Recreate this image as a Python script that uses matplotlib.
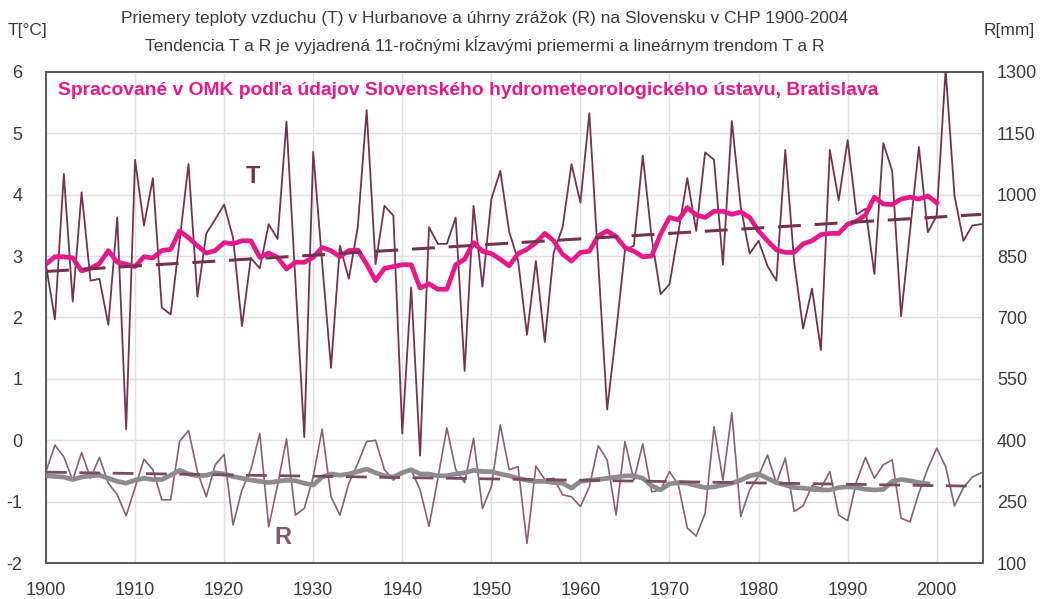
# -*- encoding: utf-8 -*-
"""
Priemery teploty vzduchu (T) a úhrny zrážok (R), 1900-2005
(hodnoty odčítané z grafu, R je kreslené v jednotkách ľavej osi)
"""
import matplotlib
matplotlib.use('Agg')
import matplotlib.pyplot as plt
import numpy as np

# ----------------------------------------------------------------------
# dáta
years = np.arange(1900, 2006)

t_values = [2.85, 1.97, 4.34, 2.26, 4.04, 2.6, 2.63, 1.88, 3.63, 0.18,
            4.57, 3.5, 4.27, 2.16, 2.05, 3.25, 4.5, 2.34, 3.37, 3.6,
            3.84, 3.3, 1.86, 2.97, 2.8, 3.52, 3.28, 5.19, 2.6, 0.05,
            4.7, 2.9, 1.18, 3.17, 2.63, 3.47, 5.38, 2.87, 3.82, 3.66,
            0.11, 2.49, -0.25, 3.47, 3.2, 3.2, 3.63, 1.13, 3.82, 2.5,
            3.93, 4.39, 3.4, 2.93, 1.72, 2.92, 1.6, 3.06, 3.47, 4.5,
            3.87, 5.33, 2.9, 0.5, 1.75, 3.1, 3.17, 4.64, 3.3, 2.38,
            2.54, 3.39, 4.27, 3.41, 4.69, 4.57, 2.86, 5.2, 3.8, 3.04,
            3.25, 2.84, 2.6, 4.73, 2.9, 1.82, 2.47, 1.47, 4.73, 3.91,
            4.89, 3.68, 3.77, 2.71, 4.84, 4.39, 2.02, 3.4, 4.78, 3.39,
            3.66, 6.04, 3.98, 3.25, 3.5, 3.52]

# 11-ročný kĺzavý priemer T (1900-2000)
t_smooth = [2.87, 2.99, 2.99, 2.97, 2.76, 2.8, 2.88, 3.09, 2.9, 2.87,
            2.83, 2.99, 2.97, 3.09, 3.11, 3.41, 3.3, 3.17, 3.05, 3.09,
            3.22, 3.2, 3.25, 3.25, 2.98, 3.05, 2.98, 2.79, 2.9, 2.9,
            2.98, 3.14, 3.09, 2.99, 3.09, 3.1, 2.87, 2.6, 2.8, 2.83,
            2.86, 2.86, 2.48, 2.55, 2.46, 2.46, 2.86, 2.95, 3.22, 3.08,
            3.04, 2.95, 2.84, 3.04, 3.11, 3.22, 3.37, 3.25, 3.03, 2.92,
            3.06, 3.08, 3.33, 3.41, 3.32, 3.14, 3.08, 2.99, 3.0, 3.36,
            3.63, 3.59, 3.79, 3.67, 3.63, 3.73, 3.73, 3.68, 3.72, 3.63,
            3.41, 3.25, 3.1, 3.06, 3.06, 3.2, 3.25, 3.35, 3.37, 3.37,
            3.52, 3.57, 3.67, 3.96, 3.85, 3.84, 3.93, 3.96, 3.93, 3.98,
            3.87]

r_values = [-0.51, -0.08, -0.27, -0.65, -0.2, -0.62, -0.28, -0.7, -0.89, -1.23,
            -0.77, -0.31, -0.48, -0.97, -0.97, -0.02, 0.16, -0.51, -0.92, -0.4,
            -0.23, -1.38, -0.81, -0.48, 0.11, -1.41, -0.73, 0.02, -1.22, -1.11,
            -0.6, 0.18, -0.92, -1.22, -0.7, -0.38, -0.02, 0.0, -0.48, -0.65,
            -0.51, -0.48, -0.81, -1.4, -0.62, 0.2, -0.48, -0.69, 0.03, -1.11,
            -0.76, 0.25, -0.48, -0.43, -1.68, -0.42, -0.64, -0.62, -0.89, -0.92,
            -1.08, -0.76, -0.09, -0.32, -1.22, -0.02, -0.65, -0.06, -0.84, -0.81,
            -0.51, -0.73, -1.43, -1.56, -1.19, 0.22, -0.65, 0.45, -1.24, -0.81,
            -0.58, -0.24, -0.7, -0.29, -1.16, -1.07, -0.74, -0.78, -0.51, -1.22,
            -1.31, -0.67, -0.28, -0.62, -0.4, -0.32, -1.27, -1.33, -0.86, -0.46,
            -0.13, -0.43, -1.07, -0.77, -0.6, -0.53]

# kĺzavý priemer R (1900-1999)
r_smooth = [-0.58, -0.59, -0.6, -0.64, -0.6, -0.58, -0.57, -0.62, -0.67, -0.7,
            -0.65, -0.62, -0.64, -0.64, -0.57, -0.49, -0.55, -0.58, -0.57, -0.53,
            -0.55, -0.59, -0.62, -0.65, -0.67, -0.69, -0.67, -0.65, -0.66, -0.7,
            -0.73, -0.6, -0.55, -0.57, -0.55, -0.51, -0.47, -0.53, -0.58, -0.6,
            -0.53, -0.48, -0.55, -0.55, -0.58, -0.58, -0.55, -0.53, -0.49, -0.51,
            -0.51, -0.55, -0.58, -0.62, -0.65, -0.67, -0.67, -0.69, -0.7, -0.78,
            -0.67, -0.65, -0.64, -0.62, -0.6, -0.58, -0.58, -0.62, -0.74, -0.81,
            -0.71, -0.69, -0.7, -0.74, -0.77, -0.76, -0.73, -0.7, -0.65, -0.58,
            -0.55, -0.62, -0.69, -0.73, -0.77, -0.78, -0.8, -0.81, -0.81, -0.77,
            -0.76, -0.77, -0.8, -0.81, -0.8, -0.67, -0.64, -0.66, -0.69, -0.71]

# lineárne trendy (začiatok, koniec)
trend_years = [1900, 2005]
t_trend = [2.75, 3.68]
r_trend = [-0.52, -0.75]

left_ticks = [-2, -1, 0, 1, 2, 3, 4, 5, 6]
right_ticks = [100, 250, 400, 550, 700, 850, 1000, 1150, 1300]
x_ticks = [1900, 1910, 1920, 1930, 1940, 1950, 1960, 1970, 1980, 1990, 2000]

# ----------------------------------------------------------------------
plt.rcParams['font.family'] = ['Liberation Sans', 'DejaVu Sans']
plt.rcParams['axes.unicode_minus'] = False
MAROON = '#74344f'
PINK = '#e6198a'
MAUVE = '#8c5f78'
GRAY = '#8f8a8e'
TXT = '#3c3c3c'

fig = plt.figure(figsize = (10.43, 5.99), dpi = 100)
ax = fig.add_axes([0.0441, 0.0601, 0.8984, 0.8197])

ax.plot(years, t_values, color = MAROON, lw = 1.3, zorder = 3)
ax.plot(years[:len(t_smooth)], t_smooth, color = PINK, lw = 3.4, zorder = 4,
        solid_joinstyle = 'round')
ax.plot(trend_years, t_trend, color = MAROON, lw = 2.2, dashes = (7.5, 4.5),
        zorder = 5)

ax.plot(years, r_values, color = MAUVE, lw = 1.2, zorder = 3)
ax.plot(years[:len(r_smooth)], r_smooth, color = GRAY, lw = 3.4, zorder = 4,
        solid_joinstyle = 'round')
ax.plot(trend_years, r_trend, color = '#7a4a62', lw = 2.0, dashes = (7.5, 4.5),
        zorder = 5)

ax.set_xlim(1900, 2005.2)
ax.set_ylim(-2, 6)
ax.set_xticks(x_ticks)
ax.set_yticks(left_ticks)
ax.grid(True, color = '#e0e0e0', lw = 1.0)
ax.set_axisbelow(True)
ax.tick_params(axis = 'both', length = 0, labelsize = 13, labelcolor = TXT)
ax.tick_params(axis = 'y', pad = 17)
ax.tick_params(axis = 'x', pad = 14)
for sp in ax.spines.values():
    sp.set_color('#5a5a5a')
    sp.set_linewidth(1.4)

# pravá os R[mm]
ax2 = ax.twinx()
ax2.set_ylim(100, 1300)
ax2.set_yticks(right_ticks)
ax2.tick_params(axis = 'y', length = 0, labelsize = 13, labelcolor = TXT,
                pad = 10)
for sp in ax2.spines.values():
    sp.set_visible(False)

# popisy
ax.text(1923.2, 4.29, 'T', color = MAROON, fontsize = 17, fontweight = 'bold',
        ha = 'center', va = 'center', zorder = 6)
ax.text(1926.6, -1.59, 'R', color = '#7a5a6c', fontsize = 17,
        fontweight = 'bold', ha = 'center', va = 'center', zorder = 6)
ax.text(0.0128, 0.963,
        'Spracované v OMK podľa údajov Slovenského hydrometeorologického ústavu, Bratislava',
        transform = ax.transAxes, color = PINK, fontsize = 13.9,
        fontweight = 'bold', ha = 'left', va = 'center', zorder = 6)

fig.text(485 / 1043, 1 - 18 / 599,
         'Priemery teploty vzduchu (T) v Hurbanove a úhrny zrážok (R) na Slovensku v CHP 1900-2004',
         ha = 'center', va = 'center', fontsize = 12.5, color = TXT)
fig.text(485 / 1043, 1 - 45 / 599,
         'Tendencia T a R je vyjadrená 11-ročnými kĺzavými priemermi a lineárnym trendom T a R',
         ha = 'center', va = 'center', fontsize = 12.5, color = TXT)
fig.text(8 / 1043, 1 - 30 / 599, 'T[°C]', ha = 'left', va = 'center',
         fontsize = 12.5, color = TXT)
fig.text(1035 / 1043, 1 - 30 / 599, 'R[mm]', ha = 'right', va = 'center',
         fontsize = 12.5, color = TXT)

fig.savefig('out.png', dpi = 100, facecolor = 'white')
